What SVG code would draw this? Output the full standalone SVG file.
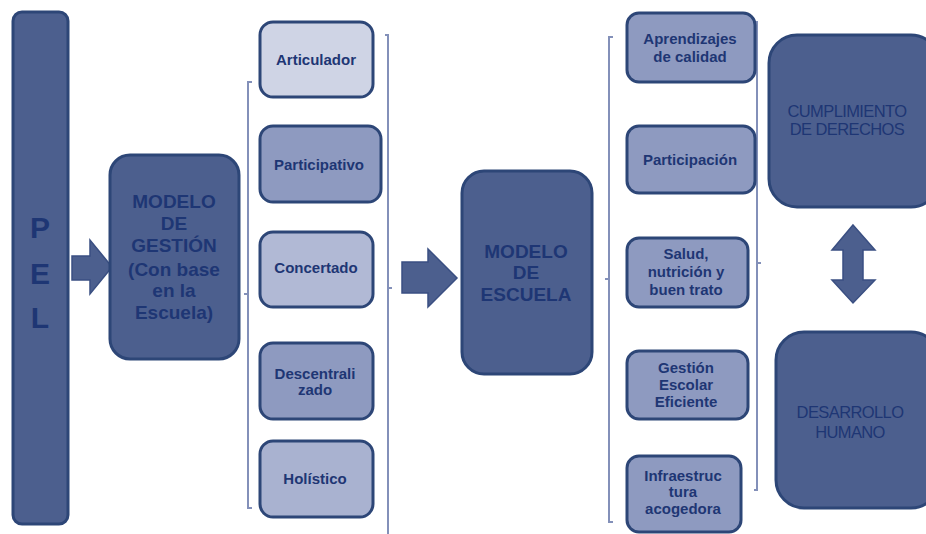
<svg xmlns="http://www.w3.org/2000/svg" width="926" height="534" viewBox="0 0 926 534">
<style>
.dark{fill:#4c5f8e;stroke:#2d4677;stroke-width:3}
.med{fill:#8e9ac0;stroke:#2d4677;stroke-width:3}
.lt{fill:#cfd4e5;stroke:#2d4677;stroke-width:3}
.lt2{fill:#b1b9d5;stroke:#2d4677;stroke-width:3}
.lt3{fill:#a9b2d0;stroke:#2d4677;stroke-width:3}
.t{font-family:"Liberation Sans",Arial,sans-serif;font-weight:bold;fill:#1e3674;text-anchor:middle}
.s{font-size:15px}
.b{font-size:19px}
.p{font-size:30px}
.r{font-family:"Liberation Sans",Arial,sans-serif;font-size:16.5px;fill:#1e3674;text-anchor:middle;letter-spacing:-0.6px}
.br{fill:none;stroke:#8390b9;stroke-width:2}
.ar{fill:#4c5f8e;stroke:#3a4f82;stroke-width:1.5}
</style>
<rect width="926" height="534" fill="#ffffff"/>
<g id="connectors">
<path class="br" d="M252,82 H248 V508 H252 M248,294 H244"/>
<path class="br" d="M385,35 H388 V534 M388,288 H392"/>
<path class="br" d="M613,37 H609 V522 H613 M609,279 H605"/>
<path class="br" d="M754,22 H757 V490 H754 M757,263 H761"/>
<polygon class="ar" points="72,256 90,256 90,240 112,267 90,294 90,280 72,280"/>
<polygon class="ar" points="402,262 428,262 428,249 457,278 428,307 428,293 402,293"/>
<polygon class="ar" points="853,225 875,250 863,250 863,280 875,280 853,303 832,280 843,280 843,250 832,250"/>
</g>
<g id="pel">
<rect class="dark" x="13" y="12" width="55" height="512" rx="9"/>
<text class="t p" x="40" y="238">P</text>
<text class="t p" x="40" y="284">E</text>
<text class="t p" x="40" y="328">L</text>
</g>
<g id="modelo-gestion">
<rect class="dark" x="110" y="155" width="129" height="204" rx="20"/>
<text class="t b" x="174" y="208">MODELO</text>
<text class="t b" x="174" y="230">DE</text>
<text class="t b" x="174" y="252">GESTIÓN</text>
<text class="t b" x="174" y="276">(Con base</text>
<text class="t b" x="174" y="297">en la</text>
<text class="t b" x="174" y="319">Escuela)</text>
</g>
<g id="articulador">
<rect class="lt" x="260" y="22" width="113" height="75" rx="13"/>
<text class="t s" x="316" y="65">Articulador</text>
</g>
<g id="participativo">
<rect class="med" x="260" y="126" width="121" height="76" rx="13"/>
<text class="t s" x="319" y="170">Participativo</text>
</g>
<g id="concertado">
<rect class="lt2" x="260" y="232" width="113" height="75" rx="13"/>
<text class="t s" x="316" y="273">Concertado</text>
</g>
<g id="descentralizado">
<rect class="med" x="260" y="343" width="113" height="76" rx="13"/>
<text class="t s" x="315" y="379">Descentrali</text>
<text class="t s" x="315" y="395">zado</text>
</g>
<g id="holistico">
<rect class="lt3" x="260" y="441" width="113" height="76" rx="13"/>
<text class="t s" x="315" y="484">Holístico</text>
</g>
<g id="modelo-escuela">
<rect class="dark" x="462" y="171" width="130" height="203" rx="22"/>
<text class="t b" x="526" y="258">MODELO</text>
<text class="t b" x="526" y="279">DE</text>
<text class="t b" x="526" y="301">ESCUELA</text>
</g>
<g id="aprendizajes">
<rect class="med" x="627" y="13" width="128" height="69" rx="12"/>
<text class="t s" x="690" y="44">Aprendizajes</text>
<text class="t s" x="690" y="62">de calidad</text>
</g>
<g id="participacion">
<rect class="med" x="627" y="126" width="128" height="67" rx="12"/>
<text class="t s" x="690" y="165">Participación</text>
</g>
<g id="salud">
<rect class="med" x="627" y="238" width="121" height="69" rx="12"/>
<text class="t s" x="686" y="259">Salud,</text>
<text class="t s" x="686" y="277">nutrición y</text>
<text class="t s" x="686" y="295">buen trato</text>
</g>
<g id="gestion-escolar">
<rect class="med" x="627" y="351" width="121" height="68" rx="12"/>
<text class="t s" x="686" y="373">Gestión</text>
<text class="t s" x="686" y="390">Escolar</text>
<text class="t s" x="686" y="407">Eficiente</text>
</g>
<g id="infraestructura">
<rect class="med" x="627" y="456" width="114" height="76" rx="12"/>
<text class="t s" x="683" y="481">Infraestruc</text>
<text class="t s" x="683" y="497">tura</text>
<text class="t s" x="683" y="514">acogedora</text>
</g>
<g id="cumplimiento">
<rect class="dark" x="769" y="35" width="170" height="172" rx="28"/>
<text class="r" x="847" y="117">CUMPLIMIENTO</text>
<text class="r" x="847" y="135">DE DERECHOS</text>
</g>
<g id="desarrollo">
<rect class="dark" x="776" y="332" width="163" height="176" rx="28"/>
<text class="r" x="850" y="418">DESARROLLO</text>
<text class="r" x="850" y="438">HUMANO</text>
</g>
</svg>
